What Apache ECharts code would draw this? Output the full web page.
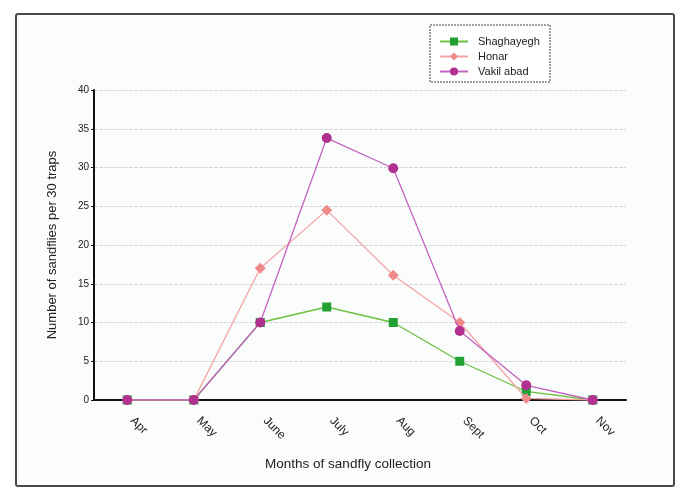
<!DOCTYPE html>
<html><head><meta charset="utf-8">
<script src="https://cdn.jsdelivr.net/npm/echarts@6/dist/echarts.min.js"></script>
<style>html,body{margin:0;padding:0;background:#fff}#c{width:691px;height:501px}</style>
</head><body><div id="c"></div>
<script>
const months = ['Apr','May','June','July','Aug','Sept','Oct','Nov'];
const shaghayegh = [0, 0, 10, 12, 10, 5, 1.1, 0];
const honar = [0, 0, 17, 24.5, 16.1, 10, 0.2, 0];
const vakilAbad = [0, 0, 10, 33.8, 29.9, 8.9, 1.9, 0];
const yTicks = {min: 0, max: 40, interval: 5};

const font = "'Liberation Sans Narrow','Arial Narrow','Liberation Sans',sans-serif";
const chart = echarts.init(document.getElementById('c'));
chart.setOption({
  backgroundColor: '#fff',
  animation: false,
  graphic: [
    {type:'rect', shape:{x:16,y:14,width:658,height:472,r:2}, style:{fill:'#fbfcfc', stroke:'#4a4a4a', lineWidth:2}, z:-10},
    {type:'rect', shape:{x:430,y:25,width:120,height:57}, style:{fill:'#ffffff', stroke:'#444', lineWidth:1, lineDash:[2,1]}, z:-5}
  ],
  grid: {left: 94, right: 65, top: 90, bottom: 101},
  legend: {
    orient: 'vertical', left: 434, top: 31, itemWidth: 28, itemHeight: 10, itemGap: 4,
    textStyle: {fontFamily: font, fontSize: 11, color: '#222', padding: [0,0,0,5]},
    data: ['Shaghayegh','Honar','Vakil abad']
  },
  xAxis: {
    type: 'category', data: months, boundaryGap: true,
    axisLine: {lineStyle: {color: '#111', width: 2}},
    axisTick: {inside: true, length: 3, lineStyle: {color: '#111', width: 1.5}},
    axisLabel: {rotate: -45, margin: 14, padding: [0,0,0,7], fontFamily: font, fontSize: 12, color: '#222'},
    name: 'Months of sandfly collection', nameLocation: 'middle', nameGap: 57,
    nameTextStyle: {fontFamily: font, fontSize: 13.5, color: '#222', padding: [0, 24, 0, 0]}
  },
  yAxis: {
    type: 'value', min: yTicks.min, max: yTicks.max, interval: yTicks.interval,
    axisLine: {show: true, lineStyle: {color: '#111', width: 2}},
    axisTick: {show: true, length: 3, lineStyle: {color: '#111'}},
    axisLabel: {fontFamily: font, fontSize: 10, color: '#222', margin: 5},
    splitLine: {lineStyle: {color: '#d8d8d8', width: 1.2, type: [4,1]}},
    name: 'Number of sandflies per 30 traps', nameLocation: 'middle', nameGap: 35,
    nameTextStyle: {fontFamily: font, fontSize: 13, color: '#222'}
  },
  series: [
    {name: 'Shaghayegh', type: 'line', data: shaghayegh, symbol: 'rect', symbolSize: 9,
     itemStyle: {color: '#22a033'}, lineStyle: {color: '#6cc040', width: 1.3}, z: 3},
    {name: 'Honar', type: 'line', data: honar, symbol: 'diamond', symbolSize: 11,
     itemStyle: {color: '#f08a8a'}, lineStyle: {color: '#f4a3a3', width: 1.3}, z: 4},
    {name: 'Vakil abad', type: 'line', data: vakilAbad, symbol: 'circle', symbolSize: 10,
     itemStyle: {color: '#b2308f'}, lineStyle: {color: '#c462c0', width: 1.3}, z: 5}
  ]
});
</script></body></html>
